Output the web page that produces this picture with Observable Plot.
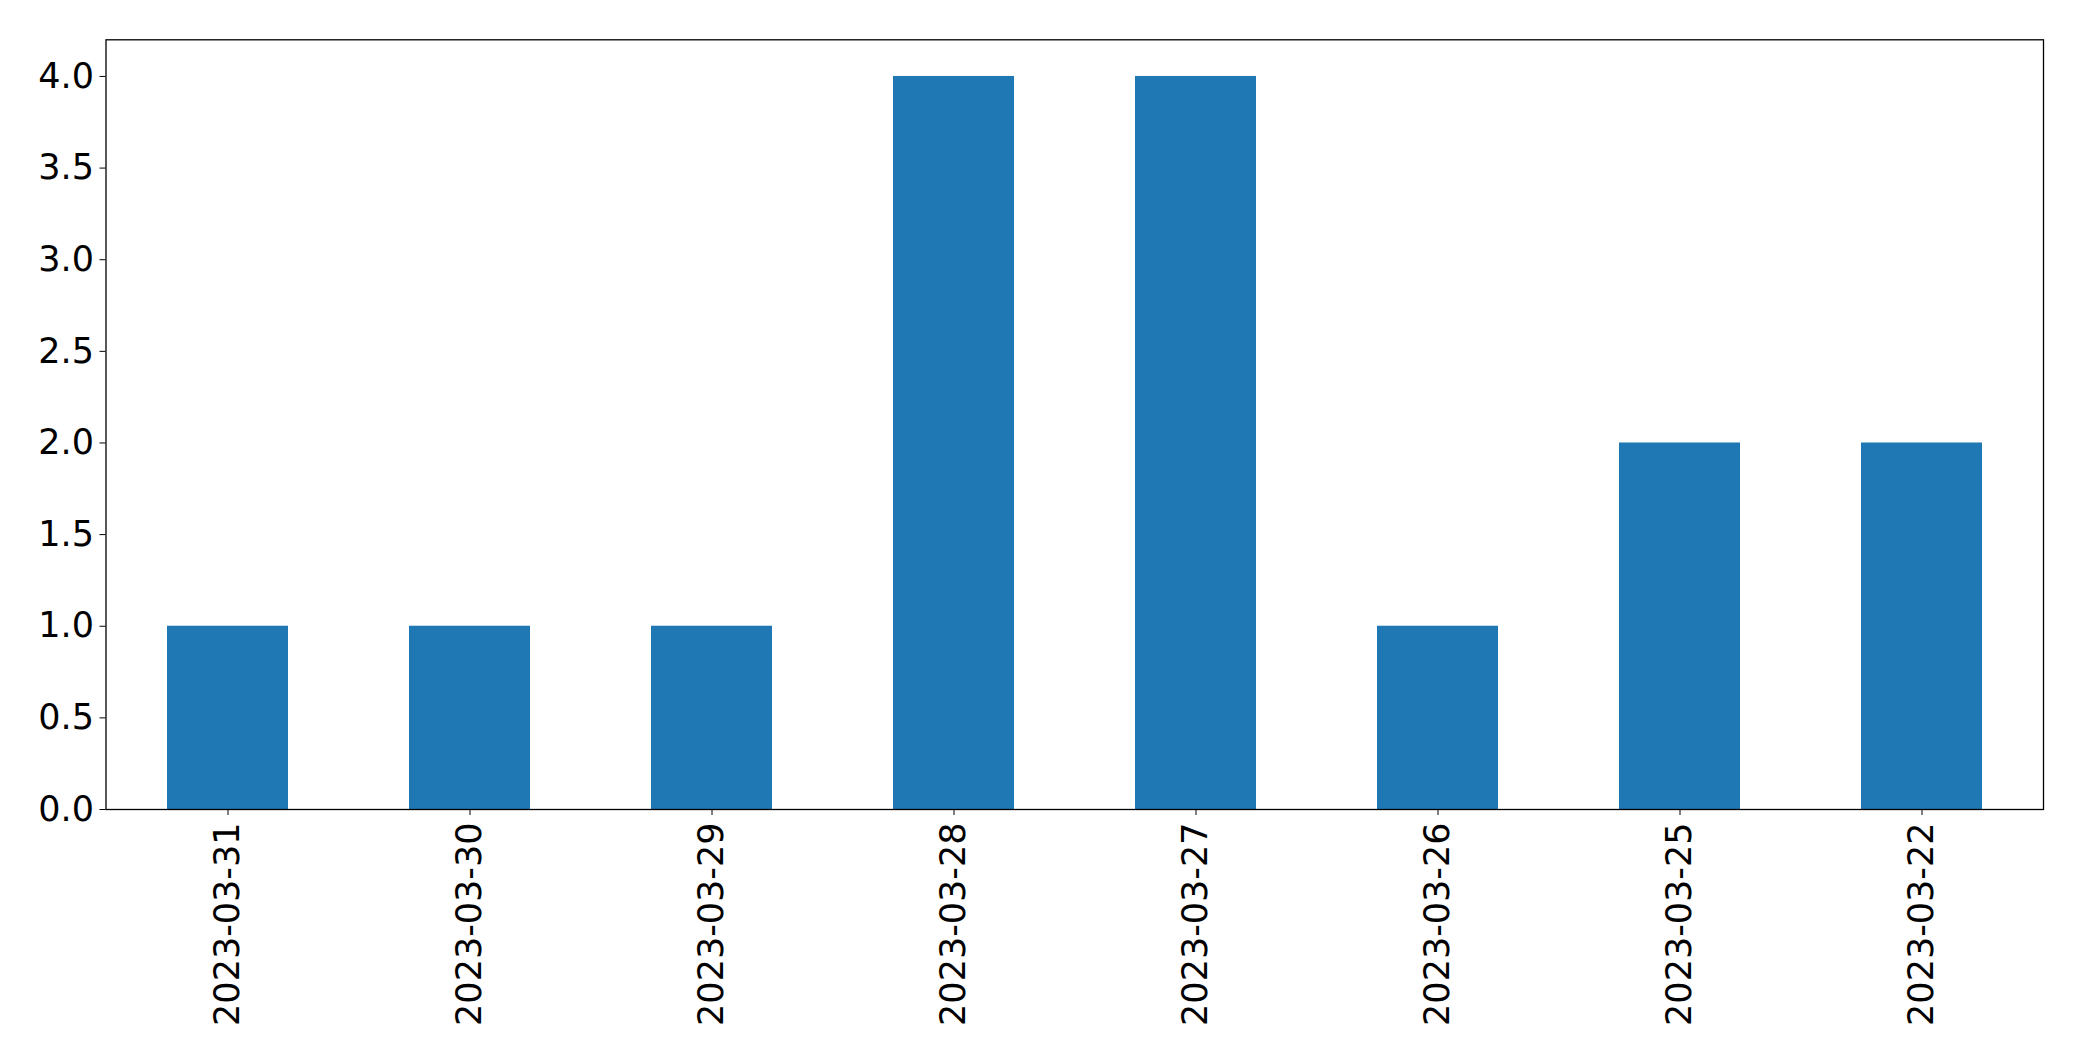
<!DOCTYPE html>
<html>
<head>
<meta charset="utf-8">
<script src="https://cdn.jsdelivr.net/npm/d3@7"></script>
<script src="https://cdn.jsdelivr.net/npm/@observablehq/plot@0.6"></script>
<style>
  html, body { margin: 0; padding: 0; background: white; }
</style>
</head>
<body>
<div id="chart"></div>
<script>
const dates = ["2023-03-31", "2023-03-30", "2023-03-29", "2023-03-28", "2023-03-27", "2023-03-26", "2023-03-25", "2023-03-22"];
const counts = [1, 1, 1, 4, 4, 1, 2, 2];
const yTicks = [0, 0.5, 1, 1.5, 2, 2.5, 3, 3.5, 4];

const data = dates.map((d, i) => ({date: d, value: counts[i]}));

const chart = Plot.plot({
  width: 2082,
  height: 1061,
  marginLeft: 105.5,
  marginRight: 39,
  marginTop: 39.3,
  marginBottom: 252,
  style: {fontFamily: "DejaVu Sans", fontSize: "35px", color: "black", background: "white"},
  x: {domain: dates, paddingInner: 0.5, paddingOuter: 0.25, label: null},
  y: {domain: [0, 4.2], label: null},
  marks: [
    Plot.barY(data, {x: "date", y: "value", fill: "#1f77b4"}),
    Plot.axisX({tickSize: 6, tickPadding: 7, tickRotate: -90, fontSize: 35, label: null}),
    Plot.axisY({ticks: yTicks, tickFormat: d3.format(".1f"), tickSize: 6, tickPadding: 6, fontSize: 35, label: null}),
    Plot.frame({stroke: "black", strokeWidth: 1.3})
  ]
});
document.getElementById("chart").appendChild(chart);
</script>
</body>
</html>
